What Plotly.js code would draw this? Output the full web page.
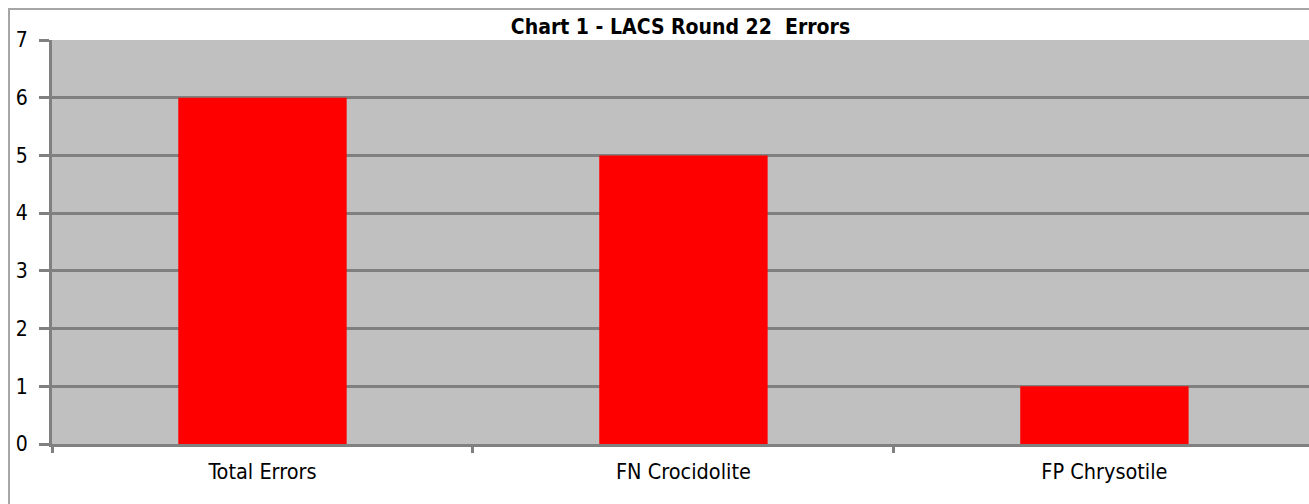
<!DOCTYPE html>
<html>
<head>
<meta charset="utf-8">
<script src="https://cdn.plot.ly/plotly-3.0.1.min.js"></script>
<style>
  html, body { margin: 0; padding: 0; background: #ffffff; }
  #wrap { position: relative; width: 1309px; height: 504px; overflow: hidden; }
  #chart { position: absolute; left: 0; top: 0; width: 1309px; height: 504px; }
  #frame { position: absolute; left: 8px; top: 8px; width: 1320px; height: 520px;
           border-left: 2px solid #a6a6a6; border-top: 2px solid #a6a6a6; pointer-events: none; }
</style>
</head>
<body>
<div id="wrap">
  <div id="chart"></div>
  <div id="frame"></div>
</div>
<script>
const categories = ["Total Errors", "FN Crocidolite", "FP Chrysotile"];
const errorCounts = [6, 5, 1];
const yTickValues = [0, 1, 2, 3, 4, 5, 6, 7];
const chartTitle = "Chart 1 - LACS Round 22  Errors";

const fontFamily = "'DejaVu Sans Condensed', 'DejaVu Sans', sans-serif";

const trace = {
  type: "bar",
  x: categories,
  y: errorCounts,
  width: 0.4,
  marker: { color: "#FF0000", line: { width: 0 } },
  hoverinfo: "x+y"
};

const layout = {
  width: 1309,
  height: 504,
  margin: { l: 52, r: 0, t: 40, b: 60 },
  paper_bgcolor: "#ffffff",
  plot_bgcolor: "#C0C0C0",
  showlegend: false,
  bargap: 0.6,
  title: {
    text: "<b>" + chartTitle + "</b>",
    font: { family: fontFamily, size: 21, color: "#000000" },
    x: 0.5, xref: "paper", xanchor: "center",
    y: 0.948, yref: "container", yanchor: "middle"
  },
  xaxis: {
    type: "category",
    range: [-0.5, 2.486],
    showgrid: false,
    showline: true, linecolor: "#808080", linewidth: 3,
    ticks: "outside", tickson: "boundaries", ticklen: 6, tickwidth: 3, tickcolor: "#808080",
    tickfont: { family: fontFamily, size: 21.5, color: "#000000" },
    ticklabelstandoff: 6,
    fixedrange: true
  },
  yaxis: {
    range: [0, 7],
    tickvals: yTickValues,
    ticktext: yTickValues.map(String),
    showgrid: true, gridcolor: "#808080", gridwidth: 3,
    zeroline: false,
    showline: true, linecolor: "#808080", linewidth: 3,
    ticks: "outside", ticklen: 10, tickwidth: 3, tickcolor: "#808080",
    tickfont: { family: fontFamily, size: 21, color: "#000000" },
    ticklabelstandoff: 7,
    fixedrange: true
  }
};

Plotly.newPlot("chart", [trace], layout, { displayModeBar: false, staticPlot: true });
</script>
</body>
</html>
